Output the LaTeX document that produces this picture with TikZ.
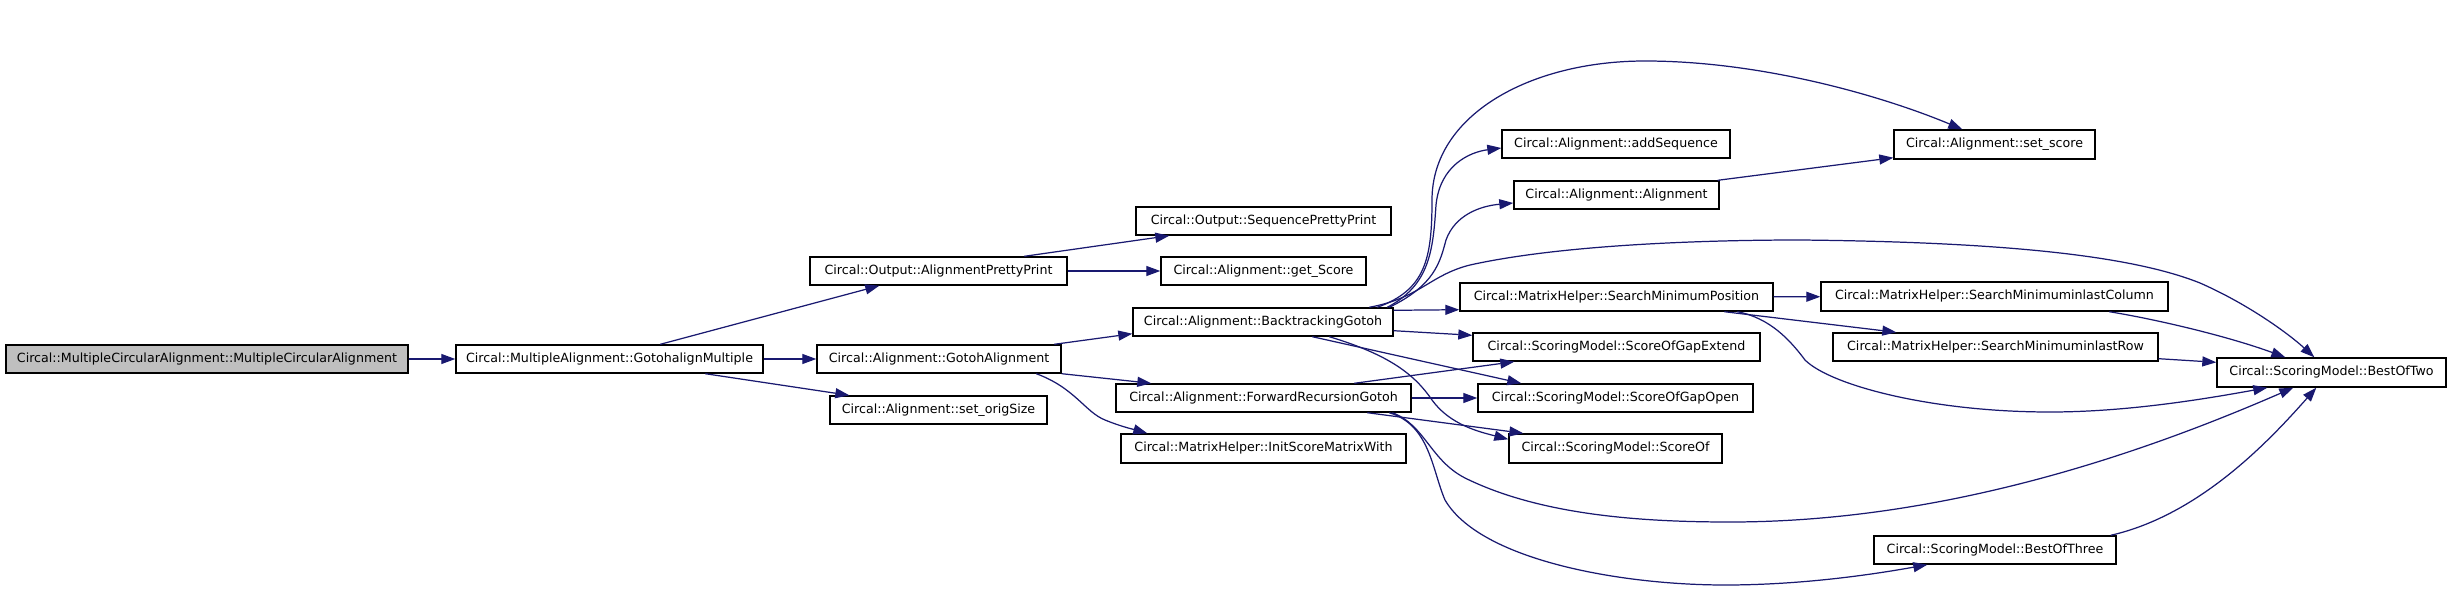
\documentclass[tikz,border=0pt]{standalone}
\usepackage{fontspec}
\setmainfont{DejaVu Sans}
\usetikzlibrary{arrows.meta,calc}
\definecolor{edgecol}{RGB}{25,25,112}
\definecolor{rootfill}{RGB}{191,191,191}
\newcommand\mybox[7][]{\node[box,#1,minimum width={(#5-#3)*0.02cm},minimum height={(#6-#4)*0.02cm}] (#2) at ({(#3+#5)/2},{(#4+#6)/2}) {#7};}
\begin{document}
\begin{tikzpicture}[x=0.02cm,y=-0.02cm,
  box/.style={draw=black,line width=0.8pt,fill=white,inner sep=0pt,font=\fontsize{7.2}{8}\selectfont},
  root/.style={fill=rootfill},
  call/.style={draw=edgecol,line width=0.7pt,-{Triangle[length=0.28cm,width=0.2cm]}}]
\useasboundingbox[fill=white] (0,0) rectangle (2451,615);

\mybox[root]{mca}{6}{345}{408}{373}{Circal::MultipleCircularAlignment::MultipleCircularAlignment}
\mybox{gam}{456}{345}{763}{373}{Circal::MultipleAlignment::GotohalignMultiple}
\mybox{app}{810}{257}{1067}{285}{Circal::Output::AlignmentPrettyPrint}
\mybox{spp}{1136}{207}{1391}{235}{Circal::Output::SequencePrettyPrint}
\mybox{gsc}{1161}{257}{1366}{285}{Circal::Alignment::get\_Score}
\mybox{goa}{817}{345}{1061}{373}{Circal::Alignment::GotohAlignment}
\mybox{sos}{830}{396}{1047}{424}{Circal::Alignment::set\_origSize}
\mybox{btg}{1133}{308}{1393}{336}{Circal::Alignment::BacktrackingGotoh}
\mybox{frg}{1116}{384}{1411}{412}{Circal::Alignment::ForwardRecursionGotoh}
\mybox{ism}{1121}{434}{1406}{463}{Circal::MatrixHelper::InitScoreMatrixWith}
\mybox{ads}{1502}{130}{1730}{158}{Circal::Alignment::addSequence}
\mybox{aln}{1514}{181}{1719}{209}{Circal::Alignment::Alignment}
\mybox{smp}{1460}{283}{1773}{311}{Circal::MatrixHelper::SearchMinimumPosition}
\mybox{sge}{1473}{333}{1760}{361}{Circal::ScoringModel::ScoreOfGapExtend}
\mybox{sgo}{1478}{384}{1753}{412}{Circal::ScoringModel::ScoreOfGapOpen}
\mybox{sof}{1509}{434}{1722}{463}{Circal::ScoringModel::ScoreOf}
\mybox{ssc}{1894}{130}{2095}{159}{Circal::Alignment::set\_score}
\mybox{slc}{1821}{282}{2168}{311}{Circal::MatrixHelper::SearchMinimuminlastColumn}
\mybox{slr}{1833}{333}{2158}{361}{Circal::MatrixHelper::SearchMinimuminlastRow}
\mybox{bo2}{2217}{358}{2446}{387}{Circal::ScoringModel::BestOfTwo}
\mybox{bo3}{1874}{536}{2116}{564}{Circal::ScoringModel::BestOfThree}

% level 1-2
\draw[call] (mca) -- (gam);
\draw[call] ($(gam.north west)+(205,0)$) -- ($(app.south west)+(70,0)$);
\draw[call] (gam) -- (goa);
\draw[call] ($(gam.south west)+(250,0)$) -- ($(sos.north west)+(20,0)$);
\draw[call] ($(app.north west)+(215,0)$) -- ($(spp.south west)+(34,0)$);
\draw[call] (app) -- (gsc);
\draw[call] ($(goa.north west)+(238,0)$) -- ($(btg.south west)+(0,-3)$);
\draw[call] (goa.south east) -- ($(frg.north west)+(36,0)$);
\draw[call] ($(goa.south west)+(220,0)$) .. controls (1075,388) and (1085,412) .. (1105,420) .. controls (1122,427) and (1136,430) .. ($(ism.north west)+(27,0)$);

% from BacktrackingGotoh
\draw[call] ($(btg.north west)+(255,0)$) .. controls (1430,285) and (1433,250) .. (1436,205) .. controls (1440,165) and (1470,152) .. ($(ads.west)+(0,4)$);
\draw[call] ($(btg.north west)+(257,0)$) .. controls (1435,285) and (1440,262) .. (1446,240) .. controls (1455,215) and (1480,206) .. ($(aln.west)+(0,8)$);
\draw[call] ($(btg.north west)+(245,0)$) .. controls (1425,290) and (1432,260) .. (1432,200) .. controls (1432,115) and (1530,61) .. (1645,61) .. controls (1760,61) and (1880,95) .. ($(ssc.north west)+(69,0)$);
\draw[call] ($(btg.north west)+(237,0)$) .. controls (1420,298) and (1430,275) .. (1470,265) .. controls (1560,245) and (1700,240) .. (1800,240) .. controls (2000,242) and (2130,255) .. (2200,283) .. controls (2250,305) and (2290,335) .. ($(bo2.north west)+(98,0)$);
\draw[call] ($(btg.north east)+(0,3)$) -- ($(smp.south west)+(0,-2)$);
\draw[call] ($(btg.south east)+(0,-6)$) -- ($(sge.north west)+(0,3)$);
\draw[call] ($(btg.south west)+(180,0)$) -- ($(sgo.north west)+(44,0)$);
\draw[call] ($(btg.south west)+(197,0)$) .. controls (1390,355) and (1415,375) .. (1432,400) .. controls (1450,425) and (1480,432) .. ($(sof.north west)+(0,6)$);

% from ForwardRecursionGotoh
\draw[call] ($(frg.north west)+(239,0)$) -- ($(sge.south west)+(42,0)$);
\draw[call] (frg) -- (sgo);
\draw[call] ($(frg.south west)+(252,0)$) -- ($(sof.north west)+(15,0)$);
\draw[call] ($(frg.south west)+(277,0)$) .. controls (1425,425) and (1430,460) .. (1465,478) .. controls (1540,515) and (1640,522) .. (1730,522) .. controls (1950,522) and (2150,450) .. ($(bo2.south west)+(77,0)$);
\draw[call] ($(frg.south west)+(274,0)$) .. controls (1430,425) and (1432,470) .. (1445,500) .. controls (1480,560) and (1620,585) .. (1725,585) .. controls (1800,585) and (1870,575) .. ($(bo3.south west)+(54,0)$);

% others
\draw[call] ($(aln.north east)+(-2,0)$) -- ($(ssc.south west)+(0,-2)$);
\draw[call] (smp) -- (slc);
\draw[call] ($(smp.south west)+(265,0)$) -- ($(slr.north west)+(64,0)$);
\draw[call] ($(smp.south west)+(278,0)$) .. controls (1770,318) and (1790,340) .. (1805,360) .. controls (1830,385) and (1930,412) .. (2050,412) .. controls (2130,412) and (2210,398) .. ($(bo2.south west)+(51,0)$);
\draw[call] ($(slc.south west)+(289,0)$) .. controls (2160,320) and (2230,337) .. ($(bo2.north west)+(69,0)$);
\draw[call] ($(slr.south east)+(0,-3)$) -- ($(bo2.north west)+(0,5)$);
\draw[call] ($(bo3.north east)+(-6,0)$) .. controls (2200,515) and (2270,440) .. ($(bo2.south west)+(100,0)$);
\end{tikzpicture}
\end{document}
